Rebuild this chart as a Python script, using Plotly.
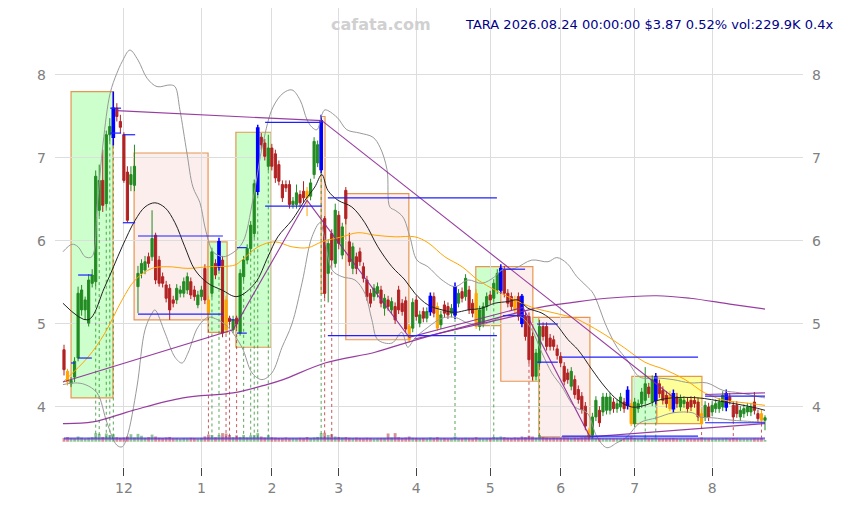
import pandas as pd
import plotly.graph_objects as go

# ---------------- data ----------------
holidays = ["2025-11-27", "2025-12-25", "2026-01-01", "2026-01-19", "2026-02-16",
            "2026-04-03", "2026-05-25", "2026-06-19", "2026-07-03"]
dates = pd.bdate_range("2025-11-05", "2026-08-24", freq="C", holidays=holidays)

opens = [4.69,4.43,4.28,4.36,4.59,5.17,5.17,5.01,5.49,5.51, 6.37,6.73,6.45,7.28,7.25,7.60,7.44,7.28,6.83,6.68,
         6.67,5.45,5.61,5.65,5.81,5.81,6.07,5.77,5.57,5.47, 5.43,5.29,5.29,5.37,5.37,5.41,5.51,5.41,5.23,5.33,
         5.67,5.29,5.37,5.73,5.69,5.77,5.29,5.07,4.93,5.07, 4.89,5.57,5.77,5.91,6.09,6.60,7.25,7.18,6.90,7.12,
         7.05,6.92,6.68,6.68,6.68,6.44,6.44,6.56,6.60,6.60, 6.54,6.80,6.94,6.86,6.27,5.61,6.09,5.73,6.31,5.83,
         6.61,5.99,5.67,5.81,5.87,5.69,5.53,5.37,5.33,5.37, 5.41,5.19,5.29,5.17,5.21,5.41,5.25,5.28,4.97,4.95,
         5.29,5.01,5.15,5.07,5.15,5.33,5.21,4.99,5.23,5.21, 5.13,5.11,5.25,5.39,5.33,5.41,5.25,5.37,4.97,5.01,
         5.21,5.35,5.31,5.41,5.41,5.65,5.37,5.33,5.29,5.33, 5.33,5.09,5.09,4.85,4.37,4.53,4.97,4.97,4.83,4.81,
         4.70,4.61,4.49,4.41,4.25,4.33,4.21,4.13,4.01,3.72, 3.66,3.88,3.96,3.94,3.96,3.96,4.06,3.98,4.00,4.06,
         4.02,4.04,3.80,3.98,4.04,4.08,4.24,4.06,4.08,4.28, 4.20,4.14,4.14,4.16,4.12,4.00,4.04,4.06,4.08,4.08,
         4.06,3.92,3.88,4.00,3.94,3.98,3.98,4.00,4.00,4.12, 4.02,4.02,3.88,3.92,3.94,3.94,4.06,3.92,3.92,3.84]
closes = [4.45,4.30,4.32,4.55,5.37,5.41,5.29,5.53,5.59,6.78, 6.73,6.43,7.28,7.38,7.60,7.50,7.37,6.73,6.25,6.80,
          6.90,5.61,5.73,5.75,5.73,6.03,5.53,5.49,5.49,5.31, 5.17,5.25,5.43,5.41,5.51,5.57,5.35,5.33,5.35,5.41,
          5.29,5.13,5.87,5.59,5.99,4.89,4.93,5.03,5.05,5.00, 5.61,5.77,5.91,6.19,6.69,7.36,7.16,7.02,7.12,6.90,
          6.76,6.72,6.52,6.64,6.44,6.48,6.58,6.46,6.52,6.52, 6.70,7.20,7.16,7.45,5.37,5.97,5.77,6.37,5.97,6.17,
          6.27,5.75,5.93,5.67,5.75,5.55,5.33,5.25,5.43,5.45, 5.25,5.31,5.21,5.27,5.05,5.17,5.15,4.94,4.81,5.26,
          5.09,5.11,5.07,5.15,5.33,5.13,4.95,5.11,5.13,5.11, 5.19,5.45,5.37,5.31,5.55,5.17,5.13,4.97,5.17,5.21,
          5.33,5.29,5.49,5.61,5.67,5.37,5.25,5.21,5.17,5.09, 5.01,4.85,4.57,4.37,4.65,4.97,4.85,4.73,4.73,4.73,
          4.62,4.53,4.31,4.33,4.43,4.15,4.09,3.97,3.77,3.64, 3.88,4.08,3.81,4.12,4.12,4.12,3.98,4.04,4.12,3.98,
          4.20,3.80,4.06,4.04,4.18,4.28,4.16,4.33,4.36,4.16, 4.08,4.04,3.98,3.98,4.04,4.10,4.08,3.98,4.00,4.04,
          3.88,3.80,4.02,3.88,4.02,4.04,4.06,4.14,4.16,4.08, 3.88,3.92,3.96,3.98,4.00,4.00,3.96,3.86,3.84,3.87]
highs = [4.75,4.46,4.36,4.60,5.45,5.47,5.33,5.60,5.66,6.85, 6.92,7.10,7.33,7.48,7.80,7.66,7.52,7.31,6.90,6.90,
         7.16,5.70,5.78,5.82,5.86,6.37,6.10,5.82,5.62,5.52, 5.48,5.34,5.48,5.46,5.56,5.62,5.56,5.46,5.40,5.46,
         5.72,5.34,5.92,5.78,6.04,5.82,5.34,5.10,5.10,5.10, 5.66,5.82,5.96,6.24,6.74,7.40,7.30,7.23,7.28,7.17,
         7.10,6.97,6.73,6.73,6.73,6.53,6.68,6.61,6.72,6.65, 6.75,7.25,7.21,7.52,6.30,6.02,6.14,6.45,6.36,6.22,
         6.65,6.10,5.98,5.86,5.92,5.74,5.58,5.42,5.48,5.50, 5.46,5.36,5.34,5.32,5.26,5.46,5.30,5.33,5.00,5.31,
         5.34,5.16,5.20,5.20,5.38,5.38,5.26,5.16,5.28,5.26, 5.24,5.50,5.42,5.44,5.60,5.46,5.30,5.42,5.22,5.26,
         5.38,5.40,5.54,5.66,5.72,5.70,5.42,5.38,5.34,5.38, 5.36,5.14,5.14,4.90,4.70,5.05,5.02,5.02,4.88,4.86,
         4.75,4.66,4.54,4.46,4.48,4.38,4.26,4.18,4.06,3.75, 3.93,4.13,4.01,4.17,4.17,4.17,4.11,4.09,4.17,4.11,
         4.25,4.09,4.11,4.09,4.23,4.48,4.29,4.38,4.41,4.33, 4.25,4.19,4.19,4.21,4.17,4.15,4.13,4.11,4.13,4.13,
         4.11,3.97,4.07,4.05,4.07,4.09,4.11,4.19,4.21,4.17, 4.07,4.07,4.01,4.03,4.05,4.05,4.18,3.97,3.97,3.90]
lows = [4.38,4.26,4.24,4.30,4.55,5.10,5.05,4.97,5.44,5.45, 6.30,6.35,6.40,7.20,7.15,7.44,7.30,6.70,6.22,6.60,
        6.60,5.13,5.55,5.60,5.68,5.76,5.48,5.45,5.44,5.26, 5.05,5.20,5.24,5.32,5.32,5.36,5.30,5.28,5.19,5.28,
        5.24,5.08,5.32,5.54,5.64,4.84,4.88,4.98,4.89,4.95, 4.86,5.52,5.72,5.86,6.04,6.55,7.10,6.97,6.85,6.85,
        6.70,6.67,6.47,6.59,6.39,6.39,6.39,6.41,6.47,6.30, 6.49,6.75,6.89,6.82,5.31,5.26,5.70,5.68,5.90,5.78,
        6.20,5.70,5.60,5.60,5.70,5.50,5.28,5.20,5.28,5.32, 5.20,5.10,5.16,5.12,5.00,5.12,5.10,4.90,4.78,4.90,
        5.04,4.96,5.02,5.02,5.10,5.08,4.92,4.94,5.08,5.06, 5.08,5.06,5.20,5.26,5.28,5.12,5.08,4.94,4.92,4.96,
        5.16,5.24,5.26,5.36,5.36,5.32,5.20,5.16,5.12,5.04, 4.96,4.80,4.52,4.32,4.32,4.48,4.80,4.68,4.68,4.68,
        4.57,4.48,4.26,4.28,4.20,4.10,4.04,3.92,3.72,3.60, 3.62,3.83,3.76,3.89,3.91,3.91,3.93,3.93,3.95,3.93,
        3.97,3.77,3.76,3.93,3.99,4.03,4.11,4.01,4.03,4.11, 4.03,3.99,3.95,3.93,3.99,3.95,3.99,3.93,3.95,3.99,
        3.83,3.77,3.83,3.83,3.89,3.93,3.93,3.95,3.95,4.03, 3.83,3.87,3.83,3.87,3.89,3.89,3.91,3.81,3.80,3.72]
volumes = [520,610,480,450,700,540,430,520,610,1150, 1050,640,1100,900,1000,600,520,560,700,1000,
           560,1050,800,520,610,950,700,520,480,560, 640,450,480,420,500,460,520,480,430,500,
           720,950,900,600,880,1150,1100,900,600,850, 640,900,580,850,900,1150,700,560,880,600,
           540,500,480,560,460,500,470,520,480,620, 480,560,640,1150,1200,900,1000,700,640,560,
           620,520,480,540,500,460,520,480,430,460, 500,480,1100,560,1150,600,500,540,700,520,
           480,460,500,440,560,480,600,450,480,430, 460,700,460,480,520,480,460,600,480,450,
           460,480,640,560,700,600,520,480,560,520, 700,600,800,700,520,900,600,520,480,520,
           500,480,560,520,480,520,480,560,600,800, 640,520,480,450,440,460,430,450,420,440,
           560,700,480,420,450,600,460,480,560,440, 420,430,460,480,420,410,400,420,430,410,
           440,560,440,420,410,400,420,430,480,420, 500,440,420,410,400,410,460,430,480,230]

orange_idx = [1, 41, 46, 69, 98, 106, 117, 128, 149, 161, 172, 181, 198]
blue_idx = [14, 44, 55, 73, 104, 111, 124, 130, 160, 168, 173, 188]
signal_up_idx = [9, 10, 12, 13, 14, 42, 44, 51, 53, 54, 55, 58, 73, 111, 122, 135, 165, 168]
signal_dn_idx = [41, 46, 47, 49, 74, 76, 132, 181, 190, 198]

# moving averages / bands (index, value)
ma_fast_i = [-0.3,6.8,11.6,16.5,20.2,23.0,25.8,28.7,31.5,34.3,37.2,40.9,44.8,49.1,54.2,57.9,60.7,64.7,68.4,71.2,73.2,
             74.9,77.8,81.7,85.4,89.1,93.1,96.8,99.6,103.3,107.3,111.0,114.7,118.6,122.3,126.0,128.9,131.7,135.7,
             139.4,143.1,145.9,149.9,153.6,157.3,161.2,164.9,168.6,172.6,180.0,187.6,195.3,199]
ma_fast_v = [5.25,5.05,5.45,5.93,6.25,6.41,6.46,6.40,6.22,5.93,5.65,5.49,5.41,5.33,5.49,5.81,6.05,6.25,6.49,6.65,6.80,
             6.61,6.49,6.41,6.22,5.93,5.69,5.53,5.37,5.23,5.17,5.14,5.17,5.19,5.25,5.27,5.29,5.19,5.13,
             5.01,4.81,4.69,4.45,4.24,4.08,4.00,4.02,4.08,4.11,4.11,4.06,4.00,3.96]
ma_mid_i = [-0.3,6.8,11.6,16.5,20.2,25.0,29.5,35.2,40.9,48.5,50.5,55.1,59.9,64.7,69.3,73.2,78.9,83.5,88.3,94.0,99.6,
            103.3,108.1,113.0,117.5,122.3,126.0,130.0,133.7,139.4,145.0,147.9,153.6,159.2,164.9,170.6,176.3,
            181.9,187.6,193.3,199]
ma_mid_v = [4.30,4.60,4.89,5.29,5.53,5.67,5.69,5.67,5.69,5.71,5.77,5.93,5.99,5.93,5.92,5.99,6.05,6.10,6.07,6.05,6.05,
            5.98,5.81,5.69,5.53,5.41,5.33,5.25,5.19,5.13,5.07,5.01,4.87,4.71,4.54,4.45,4.33,
            4.17,4.08,4.05,4.02]
ma_long_i = [-0.3,8.2,19.6,33.8,48.0,57.6,62.2,74.1,88.3,96.8,106.7,120.9,135.1,144.5,154.1,168.3,177.7,189.0,199]
ma_long_v = [3.80,3.82,3.96,4.11,4.17,4.27,4.33,4.53,4.66,4.77,4.89,5.05,5.20,5.26,5.31,5.34,5.31,5.24,5.18]
band_up_i = [-0.3,2.3,4.0,6.0,7.9,9.4,11.1,13.1,15.0,16.5,18.7,21.0,23.6,26.4,30.1,31.5,32.9,34.9,36.6,38.6,40.0,
             41.4,42.3,45.1,48.0,50.8,53.6,56.5,59.3,62.2,64.7,67.0,69.0,70.4,71.8,73.2,74.1,77.5,80.3,84.0,87.7,
             89.7,91.7,92.5,94.0,96.2,98.2,100.2,103.3,107.3,111.0,114.7,118.6,122.3,124.3,128.0,132.8,137.4,
             139.9,142.8,145.6,148.5,150.2,154.1,157.0,159.8,163.5,168.3,172.9,177.7,182.5,187.1,191.9,197.6,199]
band_up_v = [5.87,5.96,5.93,5.81,5.81,6.41,7.18,7.78,8.02,8.16,8.30,8.18,7.96,7.86,7.88,7.86,7.58,7.06,6.65,6.46,6.17,
             5.95,5.87,5.81,5.86,5.99,6.49,7.18,7.61,7.78,7.82,7.70,7.46,7.37,7.34,7.52,7.58,7.49,7.34,7.30,7.25,
             7.13,6.86,6.41,6.37,6.29,6.05,5.77,5.69,5.53,5.45,5.53,5.49,5.57,5.65,5.67,5.77,5.75,
             5.80,5.73,5.57,5.45,5.37,4.96,4.72,4.57,4.36,4.35,4.33,4.29,4.29,4.20,4.17,4.12,4.11]
band_lo_i = [-0.3,3.1,6.0,9.4,12.2,15.0,16.5,17.9,20.7,23.0,25.0,25.8,28.7,31.5,33.5,35.2,38.0,40.9,43.7,46.6,50.5,
             53.4,56.2,59.0,61.9,64.7,67.6,70.4,72.7,74.1,76.1,78.9,82.6,85.4,87.4,89.1,93.1,95.9,97.6,99.6,103.3,
             107.3,111.0,114.7,118.6,122.3,126.0,130.0,132.8,135.7,138.5,141.4,145.0,148.5,151.3,154.1,157.0,
             159.8,163.5,168.3,172.9,178.5,180.5,184.2,189.9,197.6,199]
band_lo_v = [4.27,4.29,4.27,4.17,3.81,3.54,3.52,3.64,4.24,4.93,5.13,5.17,4.89,4.60,4.53,4.65,4.96,5.08,5.05,4.96,4.72,
             4.41,4.33,4.41,4.72,5.00,5.50,6.05,6.22,6.01,5.65,5.57,5.53,5.37,5.05,4.81,4.77,4.90,4.72,4.83,4.96,
             5.07,5.08,5.01,4.99,5.05,5.11,5.08,4.93,4.65,4.41,4.24,4.00,3.93,3.64,3.51,3.57,
             3.64,3.81,3.87,3.93,3.93,3.88,3.87,3.84,3.82,3.82]

# zig-zag / trend lines (index, value), None separates lines
trend_i = [15.0,73.2,None, 73.2,172.6,None, 182.0,199.0,None, 99.5,130.5,None,
           -0.3,48.0,69.0,98.0,130.3,149.3,199.0]
trend_v = [7.57,7.45,None, 7.45,4.13,None, 4.15,4.17,None, 4.82,5.12,None,
           4.30,4.93,6.49,4.84,5.20,3.64,3.80]

# support / resistance segments
lvl_i0 = [2.0,4.0,4.0,13.1,13.1,16.7,16.7,21.0,21.0,47.1,49.1,49.1,57.1,57.1,74.9,74.9,124.6,124.6,134.3,134.3,141.4,141.4,182.0,182.0]
lvl_i1 = [3.1,7.9,7.9,16.2,16.2,20.2,20.2,45.1,45.1,48.5,51.9,51.9,73.2,73.2,122.9,122.9,130.9,130.9,140.2,140.2,180.0,180.0,199.0,199.0]
lvl_v = [4.53,5.59,4.59,7.60,7.30,7.28,6.22,6.06,5.12,5.05,5.92,4.89,7.43,6.42,6.52,4.86,5.66,5.10,5.00,4.54,4.60,3.65,4.13,3.81]

# zones
box_i0 = [2.0, 19.9, 40.9, 48.8, 73.0, 80.0, 116.9, 124.0, 133.1, 134.8, 161.2, 168.3]
box_i1 = [13.9, 40.9, 46.3, 58.8, 74.1, 97.9, 124.3, 133.1, 134.8, 149.3, 168.3, 181.1]
box_top = [7.80, 7.06, 5.99, 7.31, 7.50, 6.57, 5.69, 5.69, 5.08, 5.08, 4.37, 4.37]
box_bot = [4.11, 5.05, 4.90, 4.72, 5.37, 4.81, 4.98, 4.31, 4.31, 3.64, 3.80, 3.80]
box_kind = ["up", "down", "up", "up", "down", "down", "up", "down", "up", "down", "up", "flat"]

vol_avg_i = [0, 199]
vol_avg_v = [470, 470]
vol_base_v = [330, 330]

title_text = "TARA 2026.08.24 00:00:00 $3.87 0.52% vol:229.9K 0.4x"
watermark = "cafata.com"

# ---------------- figure ----------------
n = len(closes)
idx = list(range(n))
GREEN = "#228b22"
RED = "#b22222"

fig = go.Figure()

# volume (secondary axis)
vcol = ["rgba(34,139,34,0.5)" if closes[i] >= opens[i] else "rgba(178,34,34,0.5)" for i in idx]
fig.add_trace(go.Bar(x=idx, y=volumes, marker=dict(color=vcol, line=dict(width=0)), width=0.8,
                     yaxis="y2", showlegend=False, hoverinfo="skip"))
fig.add_trace(go.Scatter(x=vol_avg_i, y=vol_base_v, mode="lines", line=dict(color="rgba(150,60,170,0.7)", width=1.2),
                         yaxis="y2", showlegend=False, hoverinfo="skip"))
fig.add_trace(go.Scatter(x=vol_avg_i, y=vol_avg_v, mode="lines", line=dict(color="rgba(40,40,255,0.8)", width=1.2),
                         yaxis="y2", showlegend=False, hoverinfo="skip"))

# signal dotted verticals
def vlines(ids, color):
    xs, ys = [], []
    for i in ids:
        xs += [i, i, None]
        ys += [lows[i], 3.63, None]
    fig.add_trace(go.Scatter(x=xs, y=ys, mode="lines", line=dict(color=color, width=1, dash="dot"),
                             showlegend=False, hoverinfo="skip"))
vlines(signal_up_idx, "rgba(34,139,34,0.75)")
vlines(signal_dn_idx, "rgba(178,34,34,0.75)")

# bands & averages
fig.add_trace(go.Scatter(x=band_up_i, y=band_up_v, mode="lines", line=dict(color="#999999", width=1, shape="spline"),
                         showlegend=False, hoverinfo="skip"))
fig.add_trace(go.Scatter(x=band_lo_i, y=band_lo_v, mode="lines", line=dict(color="#999999", width=1, shape="spline"),
                         showlegend=False, hoverinfo="skip"))
fig.add_trace(go.Scatter(x=ma_long_i, y=ma_long_v, mode="lines", line=dict(color="rgba(140,40,150,0.9)", width=1.2, shape="spline"),
                         showlegend=False, hoverinfo="skip"))
fig.add_trace(go.Scatter(x=ma_mid_i, y=ma_mid_v, mode="lines", line=dict(color="#ffa500", width=1, shape="spline"),
                         showlegend=False, hoverinfo="skip"))
fig.add_trace(go.Scatter(x=ma_fast_i, y=ma_fast_v, mode="lines", line=dict(color="#222222", width=1, shape="spline"),
                         showlegend=False, hoverinfo="skip"))
fig.add_trace(go.Scatter(x=trend_i, y=trend_v, mode="lines", line=dict(color="rgba(140,40,150,0.9)", width=1.1),
                         showlegend=False, hoverinfo="skip", connectgaps=False))

# level segments
lx, ly = [], []
for a, b, v in zip(lvl_i0, lvl_i1, lvl_v):
    lx += [a, b, None]
    ly += [v, v, None]
fig.add_trace(go.Scatter(x=lx, y=ly, mode="lines", line=dict(color="#2020ff", width=1.2),
                         showlegend=False, hoverinfo="skip"))

# candles
def sub(ids):
    return dict(x=ids, open=[opens[i] for i in ids], high=[highs[i] for i in ids],
                low=[lows[i] for i in ids], close=[closes[i] for i in ids])

normal = [i for i in idx if i not in orange_idx and i not in blue_idx]
fig.add_trace(go.Candlestick(**sub(normal),
                             increasing=dict(line=dict(color=GREEN, width=1), fillcolor=GREEN),
                             decreasing=dict(line=dict(color=RED, width=1), fillcolor=RED),
                             showlegend=False, hoverinfo="skip"))
fig.add_trace(go.Candlestick(**sub(orange_idx),
                             increasing=dict(line=dict(color="#ffa500", width=1), fillcolor="#ffa500"),
                             decreasing=dict(line=dict(color="#ffa500", width=1), fillcolor="#ffa500"),
                             showlegend=False, hoverinfo="skip"))
fig.add_trace(go.Candlestick(**sub(blue_idx),
                             increasing=dict(line=dict(color="#0000ff", width=1.5), fillcolor="#0000ff"),
                             decreasing=dict(line=dict(color="#0000ff", width=1.5), fillcolor="#0000ff"),
                             showlegend=False, hoverinfo="skip"))

# dummy trace for right-side labels
fig.add_trace(go.Scatter(x=[0], y=[4], yaxis="y3", mode="markers", marker=dict(opacity=0),
                         showlegend=False, hoverinfo="skip"))

# zones
fills = {"up": "#ccffcc", "down": "#fdeeee", "flat": "#ffff99"}
shapes = []
for a, b, t, bt, k in zip(box_i0, box_i1, box_top, box_bot, box_kind):
    shapes.append(dict(type="rect", xref="x", yref="y", x0=a, x1=b, y0=bt, y1=t,
                       fillcolor=fills[k], line=dict(color="rgb(230,150,80)", width=1.2), layer="below"))

# month ticks
tickvals, ticktext = [], []
prev = None
for i, d in enumerate(dates[:n]):
    if prev is not None and d.month != prev:
        tickvals.append(i)
        ticktext.append(str(d.month))
    prev = d.month

YMIN, YMAX = 3.277, 8.807
fig.update_layout(
    width=845, height=505, autosize=False,
    margin=dict(l=55, r=42, t=8, b=38),
    paper_bgcolor="white", plot_bgcolor="white",
    font=dict(family="DejaVu Sans", color="#808080", size=14),
    shapes=shapes,
    bargap=0.2, boxgap=0.12,
    hovermode=False,
    xaxis=dict(range=[-2.555, 209.79], tickmode="array", tickvals=tickvals, ticktext=ticktext,
               showgrid=True, gridcolor="#dddddd", gridwidth=1, zeroline=False, showline=False,
               ticks="outside", ticklen=8, tickcolor="#444444", tickwidth=1,
               rangeslider=dict(visible=False), tickfont=dict(size=14, color="#808080")),
    yaxis=dict(range=[YMIN, YMAX], tickvals=[4, 5, 6, 7, 8], showgrid=True, gridcolor="#dddddd",
               zeroline=False, showline=False, ticks="", ticklabelstandoff=8,
               tickfont=dict(size=14, color="#808080")),
    yaxis2=dict(range=[-3382, 57996], overlaying="y", visible=False, showgrid=False),
    yaxis3=dict(range=[YMIN, YMAX], overlaying="y", side="right", tickvals=[4, 5, 6, 7, 8],
                showgrid=False, zeroline=False, showline=False, ticks="", ticklabelstandoff=8,
                tickfont=dict(size=14, color="#808080")),
    annotations=[
        dict(text=title_text, xref="paper", yref="paper", x=1.0428, y=0.963, xanchor="right", yanchor="middle",
             showarrow=False, font=dict(family="DejaVu Sans", size=13, color="#00008b")),
        dict(text="<b>" + watermark + "</b>", xref="paper", yref="paper", x=0.436, y=0.963, xanchor="center",
             yanchor="middle", showarrow=False, font=dict(family="DejaVu Sans", size=16, color="#d0d0d0")),
    ],
)

fig.write_html("out.html", config={"displayModeBar": False, "staticPlot": True},
               post_script="document.body.style.margin='0';document.body.style.padding='0';")
